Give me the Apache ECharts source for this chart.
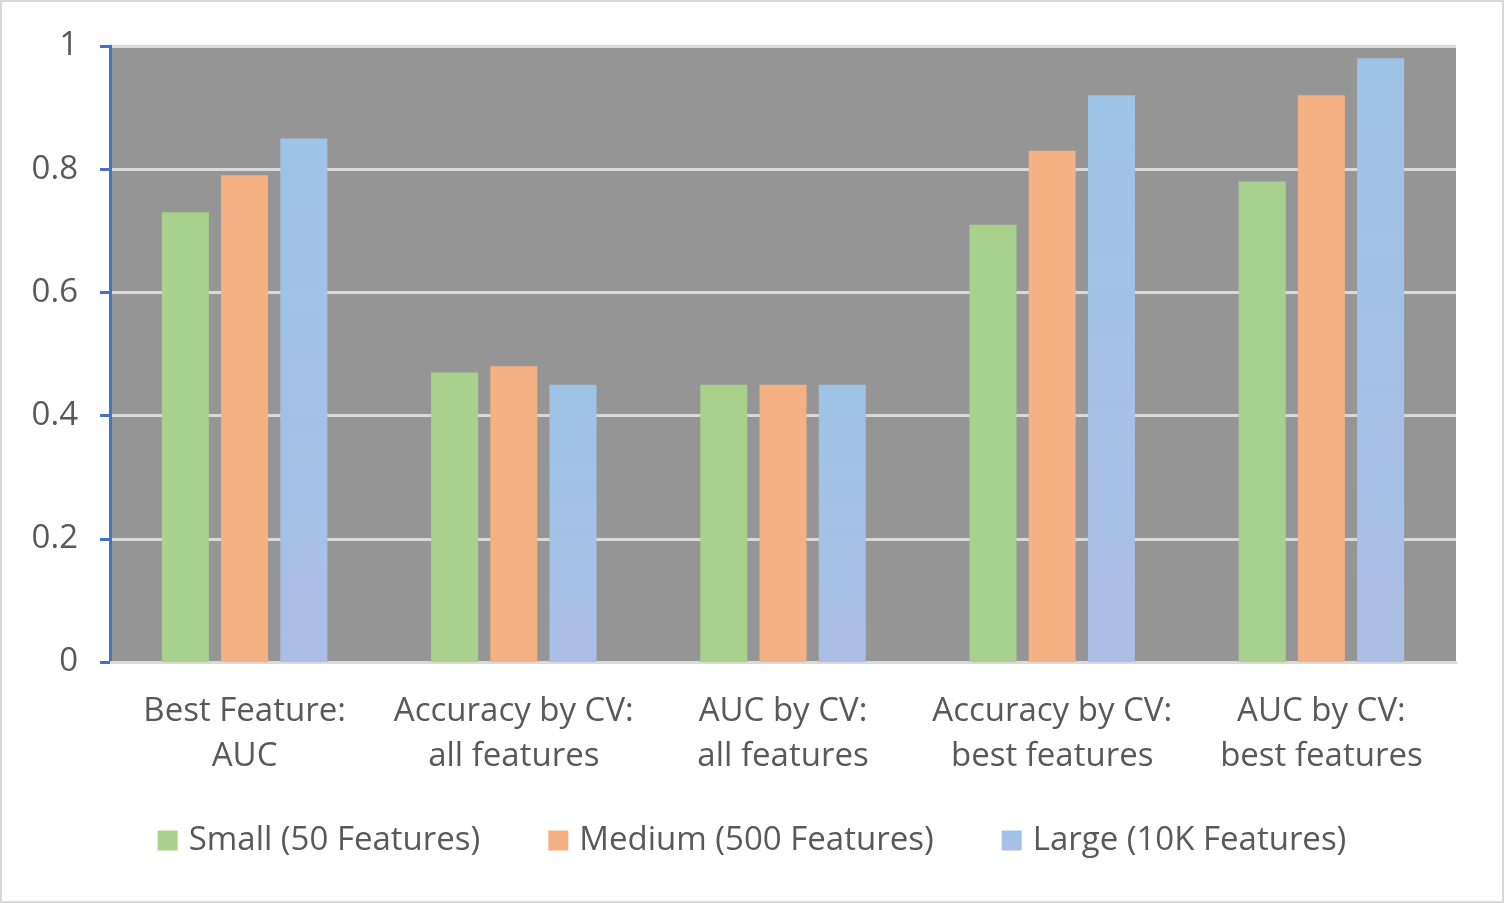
<!DOCTYPE html>
<html>
<head>
<meta charset="utf-8">
<script src="https://cdn.jsdelivr.net/npm/echarts@6/dist/echarts.min.js"></script>
<style>
  html, body { margin: 0; padding: 0; background: #fff; }
  #chart { width: 1500px; height: 899px; border: 2px solid #d9d9d9; }
</style>
</head>
<body>
<div id="chart"></div>
<script>
// data
const categories = [
  'Best Feature:\nAUC',
  'Accuracy by CV:\nall features',
  'AUC by CV:\nall features',
  'Accuracy by CV:\nbest features',
  'AUC by CV:\nbest features'
];
const seriesNames = ['Small (50 Features)', 'Medium (500 Features)', 'Large (10K Features)'];
const smallVals = [0.73, 0.47, 0.45, 0.71, 0.78];
const mediumVals = [0.79, 0.48, 0.45, 0.83, 0.92];
const largeVals = [0.85, 0.45, 0.45, 0.92, 0.98];

const textColor = '#595959';
const font = '"Open Sans", "Noto Sans", sans-serif';

let myChart = echarts.init(document.getElementById('chart'));
let option = {
  backgroundColor: '#fff',
  textStyle: { fontFamily: font },
  grid: { left: 108, right: 46, top: 44, bottom: 239, backgroundColor: '#959595', show: true, borderWidth: 0 },
  legend: {
    bottom: 39,
    left: 'center',
    itemWidth: 20,
    itemHeight: 20,
    itemGap: 68,
    icon: 'rect',
    textStyle: { color: textColor, fontSize: 33, fontFamily: font, padding: [0, 0, 0, 6] },
    data: seriesNames
  },
  xAxis: {
    type: 'category',
    data: categories,
    axisLine: { show: true, lineStyle: { color: '#d9d9d9', width: 3 } },
    axisTick: { show: false },
    axisLabel: { color: textColor, fontSize: 33, fontFamily: font, lineHeight: 45, margin: 27, interval: 0 }
  },
  yAxis: {
    type: 'value',
    min: 0,
    max: 1,
    interval: 0.2,
    axisLine: { show: true, lineStyle: { color: '#4472c4', width: 3 } },
    axisTick: { show: true, length: 10, lineStyle: { color: '#4472c4', width: 3 } },
    axisLabel: { color: textColor, fontSize: 33, fontFamily: font, margin: 32 },
    splitLine: { show: true, lineStyle: { color: '#d9d9d9', width: 3 } }
  },
  series: [
    {
      name: seriesNames[0],
      type: 'bar',
      data: smallVals,
      barWidth: 47,
      barGap: '26%',
      itemStyle: { color: '#a9d18e' }
    },
    {
      name: seriesNames[1],
      type: 'bar',
      data: mediumVals,
      barWidth: 47,
      barGap: '26%',
      itemStyle: { color: '#f4b183' }
    },
    {
      name: seriesNames[2],
      type: 'bar',
      data: largeVals,
      barWidth: 47,
      barGap: '26%',
      itemStyle: {
        color: new echarts.graphic.LinearGradient(0, 0, 0, 1, [
          { offset: 0, color: '#9dc3e6' },
          { offset: 1, color: '#acbee6' }
        ], false)
      }
    }
  ]
};
myChart.setOption(option);
</script>
</body>
</html>
